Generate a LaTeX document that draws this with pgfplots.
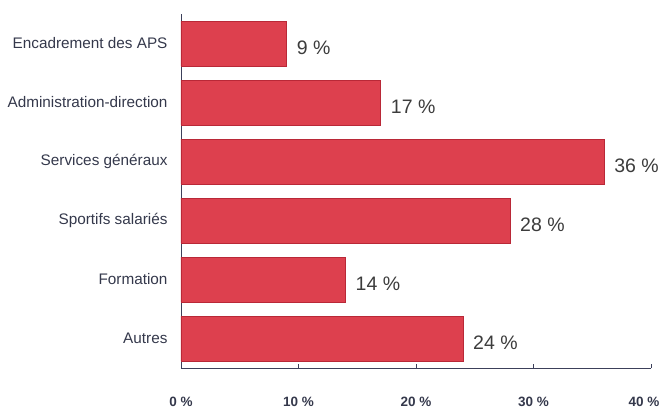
\documentclass[border=0pt]{standalone}
\usepackage{fontspec}
\setmainfont{Liberation Sans}
\usepackage{pgfplots}
\pgfplotsset{compat=1.18}
\definecolor{barred}{RGB}{221,64,78}
\definecolor{baredge}{RGB}{185,40,55}
\definecolor{labnavy}{RGB}{52,56,75}
\definecolor{valgray}{RGB}{60,60,60}
\definecolor{axisnavy}{RGB}{60,64,90}
\begin{document}
\begin{tikzpicture}
\begin{axis}[
 at={(0,0)}, anchor=south west,
 scale only axis, width=470pt, height=354pt,
 /pgf/number format/assume math mode=true,
 xbar, bar width=0.76,
 xmin=0, xmax=40, ymin=-0.5, ymax=5.5, y dir=reverse,
 axis x line*=bottom, axis y line*=left,
 axis line style={axisnavy, line width=0.6pt},
 xtick={0,10,20,30,40},
 xticklabels={0 \%,10 \%,20 \%,30 \%,40 \%\kern14pt},
 xticklabel style={font=\fontsize{13.5}{15}\selectfont\bfseries, text=labnavy, yshift=-26pt},
 x tick style={axisnavy, line width=0.5pt},
 major tick length=4pt,
 ytick={0,1,2,3,4,5},
 yticklabels={Encadrement des APS,Administration-direction,Services généraux,Sportifs salariés,Formation,Autres},
 yticklabel style={font=\fontsize{15.3}{17}\selectfont, text=labnavy, xshift=-6pt},
 y tick style={draw=none},
 extra y ticks={-0.5,0.5,1.5,2.5,3.5,4.5,5.5},
 extra y tick labels={},
 extra y tick style={draw=axisnavy, line width=0.5pt, tick align=outside},
 nodes near coords={\pgfmathprintnumber{\pgfplotspointmeta}~\%},
 nodes near coords style={font=\fontsize{19.5}{21}\selectfont, text=valgray, anchor=west, inner sep=0pt, xshift=10pt, yshift=-4pt},
]
\addplot[fill=barred, draw=baredge, line width=0.5pt] coordinates {(9,0) (17,1) (36,2) (28,3) (14,4) (24,5)};
\end{axis}
\pgfresetboundingbox
\useasboundingbox (-181pt,-44pt) rectangle (480pt,368pt);
\end{tikzpicture}
\end{document}
